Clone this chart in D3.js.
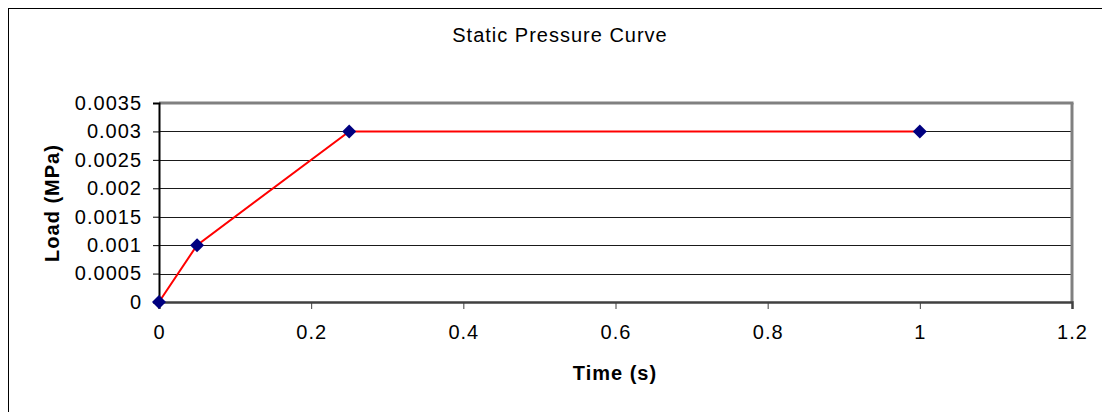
<!DOCTYPE html>
<html>
<head>
<meta charset="utf-8">
<script src="https://cdn.jsdelivr.net/npm/d3@7"></script>
<style>
  html, body { margin: 0; padding: 0; background: #fff; }
  svg { display: block; font-family: "Liberation Sans", Arial, sans-serif; }
</style>
</head>
<body>
<svg id="chart" width="1102" height="412"></svg>
<script>
// Load history of the static pressure step
const timeValues = [0, 0.05, 0.25, 1];
const loadValues = [0, 0.001, 0.003, 0.003];
const xTicks = [0, 0.2, 0.4, 0.6, 0.8, 1, 1.2];
const yTicks = [0, 0.0005, 0.001, 0.0015, 0.002, 0.0025, 0.003, 0.0035];
const xTickLabels = ["0", "0.2", "0.4", "0.6", "0.8", "1", "1.2"];
const yTickLabels = ["0", "0.0005", "0.001", "0.0015", "0.002", "0.0025", "0.003", "0.0035"];

const svg = d3.select("#chart");
const plot = { left: 159, top: 103, right: 1072, bottom: 302 };
const FONT = "Liberation Sans, Arial, sans-serif";

const x = d3.scaleLinear().domain([0, 1.2]).range([plot.left, plot.right]);
const y = d3.scaleLinear().domain([0, 0.0035]).range([plot.bottom, plot.top]);

// Outer frame
svg.append("rect")
  .attr("x", 8.5).attr("y", 8.5).attr("width", 1110).attr("height", 420)
  .attr("fill", "#fff").attr("stroke", "#000").attr("stroke-width", 1);

// Title
svg.append("text")
  .attr("x", 560).attr("y", 42)
  .attr("text-anchor", "middle")
  .attr("font-size", 20).attr("letter-spacing", 1)
  .attr("fill", "#000")
  .text("Static Pressure Curve");

// Horizontal gridlines
svg.append("g")
  .selectAll("line")
  .data(yTicks.slice(1, -1))
  .join("line")
  .attr("x1", plot.left).attr("x2", plot.right)
  .attr("y1", d => Math.round(y(d)) + 0.5).attr("y2", d => Math.round(y(d)) + 0.5)
  .attr("stroke", "#1a1a1a").attr("stroke-width", 1);

// Plot border: grey on top and right
svg.append("line")
  .attr("x1", plot.left).attr("x2", plot.right + 1.5)
  .attr("y1", plot.top).attr("y2", plot.top)
  .attr("stroke", "#808080").attr("stroke-width", 3);
svg.append("line")
  .attr("x1", plot.right).attr("x2", plot.right)
  .attr("y1", plot.top).attr("y2", plot.bottom)
  .attr("stroke", "#808080").attr("stroke-width", 3);

// Y axis
const yAxis = d3.axisLeft(y)
  .tickValues(yTicks)
  .tickFormat((d, i) => yTickLabels[i])
  .tickSize(6).tickPadding(11);
const gy = svg.append("g")
  .attr("transform", `translate(${plot.left},0)`)
  .call(yAxis);
gy.select(".domain").attr("stroke", "#000").attr("stroke-width", 2);
gy.selectAll(".tick line").attr("stroke", "#000");
gy.selectAll(".tick text")
  .attr("font-size", 20).attr("letter-spacing", 1)
  .attr("font-family", FONT).attr("fill", "#000");

// X axis
const xAxis = d3.axisBottom(x)
  .tickValues(xTicks)
  .tickFormat((d, i) => xTickLabels[i])
  .tickSize(7).tickPadding(16);
const gx = svg.append("g")
  .attr("transform", `translate(0,${plot.bottom})`)
  .call(xAxis);
gx.select(".domain").attr("stroke", "#404040").attr("stroke-width", 2.5);
gx.selectAll(".tick line").attr("stroke", "#404040");
gx.selectAll(".tick text")
  .attr("font-size", 20).attr("letter-spacing", 1)
  .attr("font-family", FONT).attr("fill", "#000");

// Axis titles
svg.append("text")
  .attr("x", 615).attr("y", 380)
  .attr("text-anchor", "middle")
  .attr("font-size", 20).attr("font-weight", "bold").attr("letter-spacing", 1)
  .text("Time (s)");
svg.append("text")
  .attr("transform", `translate(59,203) rotate(-90)`)
  .attr("text-anchor", "middle")
  .attr("font-size", 20).attr("font-weight", "bold").attr("letter-spacing", 1)
  .text("Load (MPa)");

// Series
const pts = timeValues.map((t, i) => ({ t, v: loadValues[i] }));
const line = d3.line().x(d => x(d.t)).y(d => y(d.v));
svg.append("path")
  .datum(pts)
  .attr("d", line)
  .attr("fill", "none")
  .attr("stroke", "#ff0000")
  .attr("stroke-width", 2);

const diamond = d3.symbol().type(d3.symbolDiamond2).size(125);
svg.append("g")
  .selectAll("path")
  .data(pts)
  .join("path")
  .attr("transform", d => `translate(${x(d.t)},${y(d.v)})`)
  .attr("d", diamond)
  .attr("fill", "#000080");
</script>
</body>
</html>
